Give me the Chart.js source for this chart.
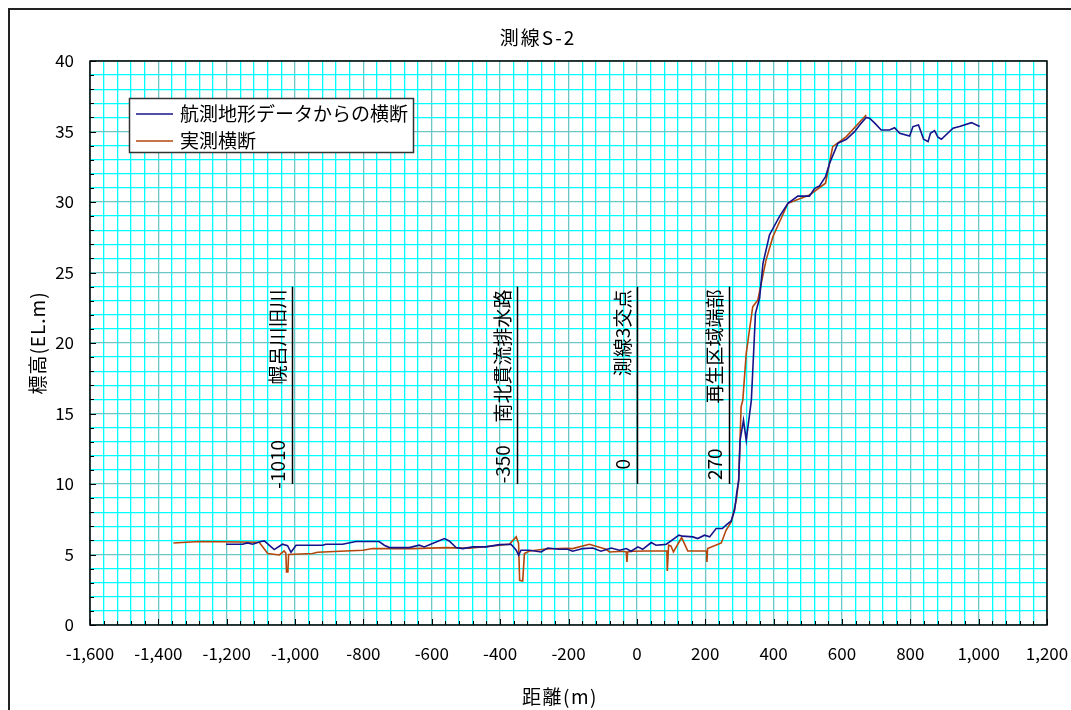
<!DOCTYPE html>
<html>
<head>
<meta charset="utf-8">
<script src="https://cdn.jsdelivr.net/npm/chart.js@4.4.1/dist/chart.umd.min.js"></script>
<style>
  html, body { margin: 0; padding: 0; background: #fff; overflow: hidden; }
  canvas { display: block; }
</style>
</head>
<body>
<canvas id="c" width="1071" height="710"></canvas>
<script>
// 航測地形データからの横断
const aerialX = [-1202,-1154,-1139,-1124,-1100,-1090,-1061,-1037,-1022,-1012,-997,-919,-910,-861,-822,-754,-739,-724,-666,-637,-622,-598,-563,-549,-529,-510,-480,-441,-402,-368,-353,-346,-339,-314,-280,-261,-227,-202,-188,-158,-129,-105,-75,-51,-31,-17,3,17,42,56,76,86,100,123,134,164,178,198,213,232,250,261,276,286,292,298,302,312,320,335,342,347,359,369,388,417,442,471,505,520,534,552,564,588,613,637,652,671,681,696,715,739,754,769,798,808,824,839,852,859,871,881,891,925,944,979,1003];
const aerialY = [5.73,5.73,5.82,5.73,5.92,5.96,5.35,5.73,5.63,5.16,5.66,5.66,5.73,5.73,5.92,5.92,5.66,5.49,5.49,5.66,5.54,5.78,6.13,5.96,5.49,5.42,5.54,5.54,5.7,5.73,5.3,4.95,5.3,5.3,5.18,5.46,5.37,5.37,5.23,5.42,5.46,5.23,5.46,5.3,5.42,5.23,5.54,5.37,5.85,5.66,5.7,5.73,5.96,6.37,6.3,6.25,6.13,6.37,6.25,6.84,6.84,7.08,7.38,8.14,9.33,10.27,13.1,14.53,13.1,15.95,19.5,22.1,23.17,25.65,27.66,28.96,29.91,30.42,30.42,30.97,31.13,31.8,32.75,34.16,34.45,34.99,35.46,36.0,35.94,35.59,35.11,35.11,35.27,34.87,34.68,35.35,35.46,34.45,34.28,34.87,35.06,34.59,34.45,35.23,35.35,35.63,35.35];

// 実測横断
const surveyX = [-1356,-1280,-1105,-1080,-1046,-1032,-1027,-1025,-1021,-1019,-949,-934,-802,-773,-656,-558,-490,-373,-353,-346,-343,-334,-329,-314,-266,-207,-188,-139,-90,-80,-41,-31,-29,-27,-12,27,37,88,89,91,93,100,107,131,149,204,205,207,247,261,276,291,298,305,310,320,339,354,378,398,442,505,552,573,613,671];
const surveyY = [5.82,5.92,5.87,5.07,4.97,5.25,5.1,3.76,3.76,5.0,5.07,5.16,5.3,5.42,5.42,5.49,5.44,5.73,6.25,5.78,3.17,3.12,5.07,5.25,5.39,5.44,5.42,5.73,5.37,5.18,5.23,5.18,4.47,5.18,5.23,5.25,5.25,5.25,3.83,3.83,5.66,5.6,5.18,6.2,5.25,5.25,4.47,5.42,5.82,6.72,7.31,8.85,10.27,15.47,15.95,19.26,22.57,23.05,25.88,27.54,29.91,30.5,31.33,33.93,34.64,36.17];

const seriesNames = ['航測地形データからの横断', '実測横断'];
const seriesColors = ['#14148c', '#b4460c'];

// vertical markers
const markX = [-1010, -350, 0, 270];
const markNames = ['幌呂川旧川', '南北貫流排水路', '測線3交点', '再生区域端部'];
const markLabels = ['-1010', '-350', '0', '270'];
const markFrom = 10;
const markTo = 24;

const chartTitle = '測線S-2';
const xTitle = '距離(m)';
const yTitle = '標高(EL.m)';

const FONT = '"Noto Sans CJK JP", "Noto Sans", sans-serif';
const MINOR = '#00ffff';
const MAJOR = '#6cc6c6';

function toPoints(xs, ys) {
  return xs.map((x, i) => ({ x: x, y: ys[i] }));
}

function spaced(ctx, px) {
  if ('letterSpacing' in ctx) ctx.letterSpacing = px + 'px';
}

const extras = {
  id: 'extras',
  afterDraw(chart) {
    const ctx = chart.ctx;
    const a = chart.chartArea;
    const xs = chart.scales.x;
    const ys = chart.scales.y;
    ctx.save();

    // outer frame
    ctx.strokeStyle = '#222';
    ctx.lineWidth = 2;
    ctx.beginPath();
    ctx.moveTo(9, 720);
    ctx.lineTo(9, 9);
    ctx.lineTo(1080, 9);
    ctx.stroke();

    // plot border
    ctx.strokeStyle = '#000';
    ctx.lineWidth = 1.5;
    ctx.strokeRect(a.left, a.top, a.right - a.left, a.bottom - a.top);

    // inner tick marks
    ctx.lineWidth = 1;
    ctx.beginPath();
    for (let v = 0; v <= 40; v++) {
      const py = Math.round(ys.getPixelForValue(v)) + 0.5;
      const len = v % 5 === 0 ? 6 : 4;
      ctx.moveTo(a.left, py);
      ctx.lineTo(a.left + len, py);
    }
    for (let v = -1600; v <= 1200; v += 40) {
      const px = Math.round(xs.getPixelForValue(v)) + 0.5;
      const len = v % 200 === 0 ? 6 : 4;
      ctx.moveTo(px, a.bottom);
      ctx.lineTo(px, a.bottom - len);
    }
    ctx.stroke();

    // markers
    ctx.fillStyle = '#000';
    ctx.font = '19px ' + FONT;
    ctx.textBaseline = 'middle';
    markX.forEach((m, i) => {
      const px = Math.round(xs.getPixelForValue(m)) + 0.5;
      const y1 = ys.getPixelForValue(markFrom);
      const y2 = ys.getPixelForValue(markTo);
      ctx.lineWidth = 1.5;
      ctx.beginPath();
      ctx.moveTo(px, y1);
      ctx.lineTo(px, y2);
      ctx.stroke();

      ctx.save();
      ctx.translate(px - 14.5, y2 + 3);
      ctx.rotate(-Math.PI / 2);
      ctx.textAlign = 'right';
      ctx.fillText(markNames[i], 0, 0);
      ctx.restore();

      ctx.save();
      ctx.translate(px - 14.5, ys.getPixelForValue(11.4));
      ctx.rotate(-Math.PI / 2);
      ctx.textAlign = 'center';
      ctx.fillText(markLabels[i], 0, 0);
      ctx.restore();
    });

    // legend
    ctx.fillStyle = '#fff';
    ctx.fillRect(129.5, 98.5, 284, 54);
    ctx.strokeStyle = '#333';
    ctx.lineWidth = 1.5;
    ctx.strokeRect(129.5, 98.5, 284, 54);
    ctx.font = '19px ' + FONT;
    ctx.textAlign = 'left';
    seriesNames.forEach((name, i) => {
      const ly = 114 + i * 27;
      ctx.strokeStyle = seriesColors[i];
      ctx.lineWidth = 1.6;
      ctx.beginPath();
      ctx.moveTo(136, ly);
      ctx.lineTo(173, ly);
      ctx.stroke();
      ctx.fillStyle = '#000';
      ctx.fillText(name, 180, ly);
    });

    // titles
    ctx.textAlign = 'center';
    ctx.font = '19px ' + FONT;
    spaced(ctx, 2);
    ctx.fillText(chartTitle, 538, 38);
    spaced(ctx, 1.5);
    ctx.fillText(xTitle, 560, 697);
    ctx.save();
    ctx.translate(38, 343);
    ctx.rotate(-Math.PI / 2);
    spaced(ctx, 1);
    ctx.fillText(yTitle, 0, 0);
    ctx.restore();

    ctx.restore();
  }
};

new Chart(document.getElementById('c'), {
  type: 'scatter',
  data: {
    datasets: [
      {
        label: seriesNames[0],
        data: toPoints(aerialX, aerialY),
        borderColor: seriesColors[0],
        backgroundColor: seriesColors[0],
        borderWidth: 1.6,
        showLine: true,
        pointRadius: 0,
        tension: 0
      },
      {
        label: seriesNames[1],
        data: toPoints(surveyX, surveyY),
        borderColor: seriesColors[1],
        backgroundColor: seriesColors[1],
        borderWidth: 1.6,
        showLine: true,
        pointRadius: 0,
        tension: 0
      }
    ]
  },
  options: {
    responsive: false,
    devicePixelRatio: 1,
    animation: false,
    layout: { padding: { left: 0, top: 61, right: 24, bottom: 0 } },
    plugins: {
      legend: { display: false },
      title: { display: false },
      tooltip: { enabled: false }
    },
    scales: {
      x: {
        type: 'linear',
        min: -1600,
        max: 1200,
        afterFit: (s) => { s.height = 85; s.paddingLeft = 0; s.paddingRight = 0; },
        ticks: {
          stepSize: 40,
          autoSkip: false,
          maxRotation: 0,
          padding: 18,
          color: '#000',
          font: { family: FONT, size: 17 },
          callback: (v) => (Math.round(v) % 200 === 0 ? Math.round(v).toLocaleString('en-US') : '')
        },
        grid: {
          drawTicks: false,
          lineWidth: 1.3,
          color: (c) => (c.tick && Math.round(c.tick.value) % 200 === 0 ? MAJOR : MINOR)
        },
        border: { display: false }
      },
      y: {
        type: 'linear',
        min: 0,
        max: 40,
        afterFit: (s) => { s.width = 90; s.paddingTop = 0; s.paddingBottom = 0; },
        ticks: {
          stepSize: 1,
          autoSkip: false,
          padding: 16,
          color: '#000',
          font: { family: FONT, size: 17 },
          callback: (v) => (Math.round(v) % 5 === 0 ? String(Math.round(v)) : '')
        },
        grid: {
          drawTicks: false,
          lineWidth: 1.3,
          color: (c) => (c.tick && Math.round(c.tick.value) % 5 === 0 ? MAJOR : MINOR)
        },
        border: { display: false }
      }
    }
  },
  plugins: [extras]
});
</script>
</body>
</html>
